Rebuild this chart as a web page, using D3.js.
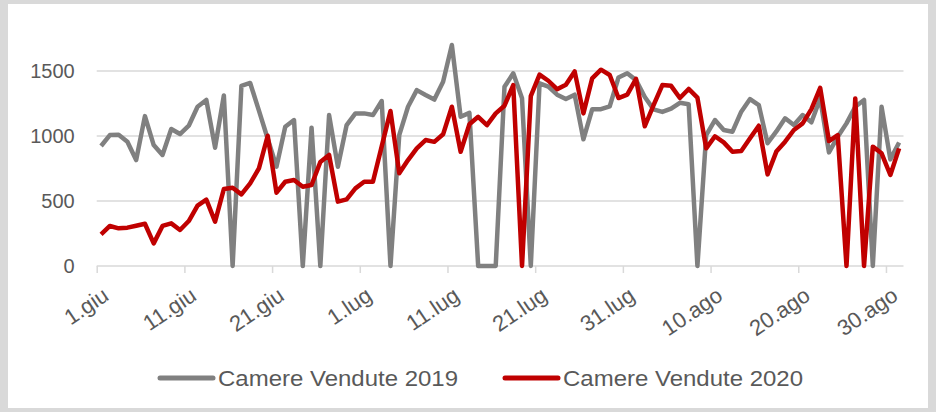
<!doctype html>
<html lang="it">
<head>
  <meta charset="utf-8">
  <title>Camere Vendute</title>
  <script src="https://d3js.org/d3.v7.min.js"></script>
  <style>
  body { margin: 0; background: #d9d9d9; }
  svg { display: block; }
  text { font-family: "Liberation Sans", Arial, sans-serif; fill: #595959; }
  </style>
</head>
<body>
<script>
  // giorni dal 1 giugno al 31 agosto
  var giorni = d3.range(92)
  var tickGiorni = [0, 10, 20, 30, 40, 50, 60, 70, 80, 90]
  var tickLabels = ["1.giu", "11.giu", "21.giu", "1.lug", "11.lug", "21.lug", "31.lug", "10.ago", "20.ago", "30.ago"]
  var yTicks = [0, 500, 1000, 1500]

  var vendute2019 = [923, 1007, 1010, 956, 815, 1153, 930, 854, 1054, 1015,
    1079, 1225, 1277, 910, 1312, 0, 1386, 1408, 1195, 979,
    764, 1071, 1123, 0, 1064, 0, 1161, 764, 1084, 1174,
    1174, 1161, 1269, 0, 1007, 1225, 1353, 1315, 1280, 1417,
    1700, 1148, 1178, 0, 0, 0, 1379, 1482, 1290, 0,
    1405, 1380, 1318, 1285, 1318, 975, 1205, 1206, 1228, 1450,
    1482, 1430, 1300, 1205, 1185, 1210, 1255, 1245, 0, 1007,
    1123, 1046, 1033, 1187, 1284, 1238, 944, 1035, 1136, 1084,
    1161, 1105, 1289, 874, 994, 1097, 1225, 1277, 0, 1225,
    820, 950]

  var vendute2020 = [244, 308, 290, 295, 310, 325, 174, 308, 328, 277,
    346, 464, 510, 341, 592, 602, 551, 636, 751, 1002,
    564, 648, 661, 610, 623, 800, 854, 495, 513, 597,
    648, 648, 920, 1192, 713, 815, 905, 969, 955, 1013,
    1225, 879, 1090, 1148, 1084, 1174, 1233, 1392, 0, 1306,
    1472, 1425, 1360, 1395, 1497, 1174, 1443, 1510, 1469, 1292,
    1318, 1440, 1075, 1238, 1392, 1386, 1292, 1362, 1295, 905,
    998, 951, 879, 884, 982, 1079, 705, 880, 956, 1046,
    1097, 1207, 1371, 961, 1007, 0, 1289, 0, 918, 867,
    700, 905]

  var serie = [
    {nome: "Camere Vendute 2019", valori: vendute2019, colore: "#808080"},
    {nome: "Camere Vendute 2020", valori: vendute2020, colore: "#c00000"}
  ]

  var W = 936, H = 412
  var svg = d3.select("body").append("svg")
      .attr("width", W)
      .attr("height", H)

  // riquadro bianco del grafico
  svg.append("rect")
      .attr("x", 8).attr("y", 4)
      .attr("width", 920).attr("height", 404)
      .attr("fill", "#ffffff")

  // scala x: ogni giorno occupa una banda, punto al centro
  var x = d3.scaleLinear().domain([0, 92]).range([96.7, 903.5])
  var y = d3.scaleLinear().domain([0, 1500]).range([266, 71])

  // griglia orizzontale
  svg.append("g")
    .selectAll("line")
    .data(yTicks)
    .enter().append("line")
      .attr("x1", x(0)).attr("x2", x(92))
      .attr("y1", function(d) { return y(d); })
      .attr("y2", function(d) { return y(d); })
      .attr("stroke", "#d9d9d9")
      .attr("stroke-width", 1.5)

  // asse y
  var yAxis = svg.append("g")
      .attr("transform", "translate(" + x(0) + ",0)")
      .call(d3.axisLeft(y).tickValues(yTicks).tickSize(0).tickPadding(22)
        .tickFormat(d3.format("d")))
  yAxis.select(".domain").remove()
  yAxis.selectAll("text")
      .style("font-size", "20px")
      .style("fill", "#595959")
      .style("font-family", "Liberation Sans, Arial, sans-serif")

  // asse x
  var xAxis = svg.append("g")
      .attr("transform", "translate(0," + y(0) + ")")
      .call(d3.axisBottom(x).tickValues(tickGiorni).tickSize(7)
        .tickFormat(function(d, i) { return tickLabels[i]; }))
  xAxis.select(".domain").remove()
  xAxis.selectAll("line").attr("stroke", "#d9d9d9").attr("stroke-width", 1.5)
  xAxis.selectAll("text")
      .style("font-size", "22px")
      .style("fill", "#595959")
      .style("font-family", "Liberation Sans, Arial, sans-serif")
      .style("text-anchor", "end")
      .attr("y", 0).attr("dy", 0)
      .attr("transform", "translate(13,33) rotate(-34)")

  // linee
  var line = d3.line()
      .x(function(d, i) { return x(i + 0.5); })
      .y(function(d) { return y(d); })

  svg.selectAll(".serie")
      .data(serie)
    .enter().append("path")
      .attr("class", "serie")
      .attr("d", function(d) { return line(d.valori); })
      .attr("fill", "none")
      .attr("stroke", function(d) { return d.colore; })
      .attr("stroke-width", 4.5)
      .attr("stroke-linejoin", "round")

  // legenda
  var legX = [160, 505]
  var leg = svg.selectAll(".leg")
      .data(serie)
    .enter().append("g")
      .attr("class", "leg")
      .attr("transform", function(d, i) { return "translate(" + legX[i] + ",378)"; })
  leg.append("line")
      .attr("x1", 0).attr("x2", 53)
      .attr("stroke", function(d) { return d.colore; })
      .attr("stroke-width", 5)
      .attr("stroke-linecap", "round")
  leg.append("text")
      .attr("x", 58).attr("dy", "0.35em")
      .attr("textLength", 240)
      .attr("lengthAdjust", "spacingAndGlyphs")
      .style("font-size", "22px")
      .text(function(d) { return d.nome; })
</script>
</body>
</html>
